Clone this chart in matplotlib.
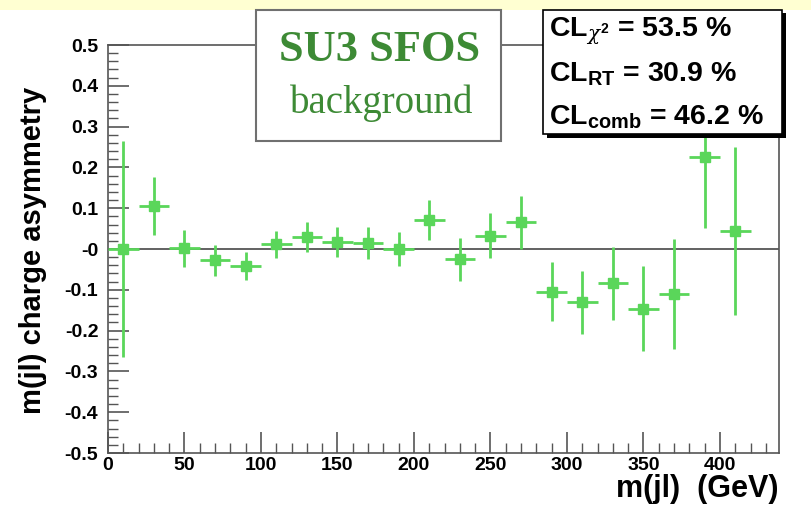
import matplotlib
matplotlib.use("Agg")
import matplotlib.pyplot as plt
from matplotlib.patches import Rectangle
from matplotlib.ticker import MultipleLocator, FixedLocator, FixedFormatter

# bin centres (GeV), asymmetry and errors
mass = [10, 30, 50, 70, 90, 110, 130, 150, 170, 190, 210,
        230, 250, 270, 290, 310, 330, 350, 370, 390, 410]
asym = [0.0, 0.106, 0.002, -0.027, -0.042, 0.012, 0.029, 0.018, 0.014, 0.0, 0.071,
        -0.025, 0.033, 0.065, -0.105, -0.131, -0.084, -0.146, -0.110, 0.226, 0.044]
err = [0.265, 0.071, 0.045, 0.038, 0.034, 0.033, 0.036, 0.037, 0.039, 0.042, 0.048,
       0.053, 0.056, 0.066, 0.072, 0.078, 0.090, 0.104, 0.135, 0.175, 0.205]
half_bin = 10

y_ticks = [0.5, 0.4, 0.3, 0.2, 0.1, 0.0, -0.1, -0.2, -0.3, -0.4, -0.5]
y_labels = ["0.5", "0.4", "0.3", "0.2", "0.1", "-0", "-0.1", "-0.2", "-0.3", "-0.4", "-0.5"]
cl_lines = [r"CL$_{\chi^2}$ = 53.5 %", r"CL$_{\rm RT}$ = 30.9 %", r"CL$_{\rm comb}$ = 46.2 %"]

plt.rcParams['font.family'] = ['Liberation Sans', 'DejaVu Sans']
plt.rcParams['mathtext.fontset'] = 'custom'
plt.rcParams['mathtext.rm'] = 'Liberation Sans:bold'
plt.rcParams['mathtext.it'] = 'DejaVu Serif:italic'
plt.rcParams['mathtext.bf'] = 'Liberation Sans:bold'

W, H = 811, 505
fig = plt.figure(figsize=(W / 100, H / 100), dpi=100)
fig.patches.append(Rectangle((0, 1 - 10 / H), 1, 10 / H, transform=fig.transFigure,
                             facecolor='#ffffd2', edgecolor='none', zorder=0))

ax = fig.add_axes([108 / W, 52 / H, 671 / W, 408 / H])
ax.set_xlim(0, 438.6)
ax.set_ylim(-0.5, 0.5)

green = '#5ad65a'
ax.axhline(0, color='#555555', lw=1.3, zorder=1)
ax.errorbar(mass, asym, yerr=err, xerr=half_bin, fmt='s', color=green, ms=6.5,
            elinewidth=2.0, capsize=0, zorder=3)

for s in ax.spines.values():
    s.set_color('#555555')
    s.set_linewidth(1.2)

ax.xaxis.set_major_locator(MultipleLocator(50))
ax.xaxis.set_minor_locator(MultipleLocator(10))
ax.yaxis.set_major_locator(FixedLocator(y_ticks))
ax.yaxis.set_major_formatter(FixedFormatter(y_labels))
ax.yaxis.set_minor_locator(MultipleLocator(0.02))
ax.tick_params(which='both', direction='in', color='#555555', top=False, right=False)
ax.tick_params(which='major', length=15, width=1.2, labelsize=14)
ax.tick_params(axis='y', which='major', pad=7)
ax.tick_params(axis='x', which='major', pad=3)
ax.tick_params(which='minor', length=7, width=1.0)
for lab in ax.get_xticklabels() + ax.get_yticklabels():
    lab.set_fontweight('bold')

fig.text(778 / W, 1 - 489 / H, "m(jl)  (GeV)", ha='right', va='center',
         fontsize=22, fontweight='bold')
fig.text(33 / W, 1 - 250 / H, "m(jl) charge asymmetry", ha='center', va='center',
         rotation=90, fontsize=21, fontweight='bold')

# title box
fig.patches.append(Rectangle((256 / W, 1 - 141 / H), 245 / W, 131 / H,
                             transform=fig.transFigure, facecolor='white',
                             edgecolor='#707070', lw=1.5, zorder=5))
tg = '#3d8a35'
fig.text(380 / W, 1 - 50 / H, "SU3 SFOS", ha='center', va='center', color=tg,
         fontsize=32, fontweight='bold', family='Liberation Serif', zorder=6)
fig.text(382 / W, 1 - 103 / H, "background", ha='center', va='center', color=tg,
         fontsize=28, family='Liberation Serif', zorder=6)

# CL box with shadow
fig.patches.append(Rectangle((547 / W, 1 - 138 / H), 239 / W, 125 / H,
                             transform=fig.transFigure, facecolor='black',
                             edgecolor='none', zorder=5))
fig.patches.append(Rectangle((543 / W, 1 - 134 / H), 239 / W, 124 / H,
                             transform=fig.transFigure, facecolor='white',
                             edgecolor='black', lw=1.2, zorder=6))
for i, line in enumerate(cl_lines):
    fig.text(549 / W, 1 - (31 + 43 * i) / H, line, ha='left', va='center',
             fontsize=20.5, fontweight='bold', zorder=7)

fig.savefig('out.png', dpi=100)
